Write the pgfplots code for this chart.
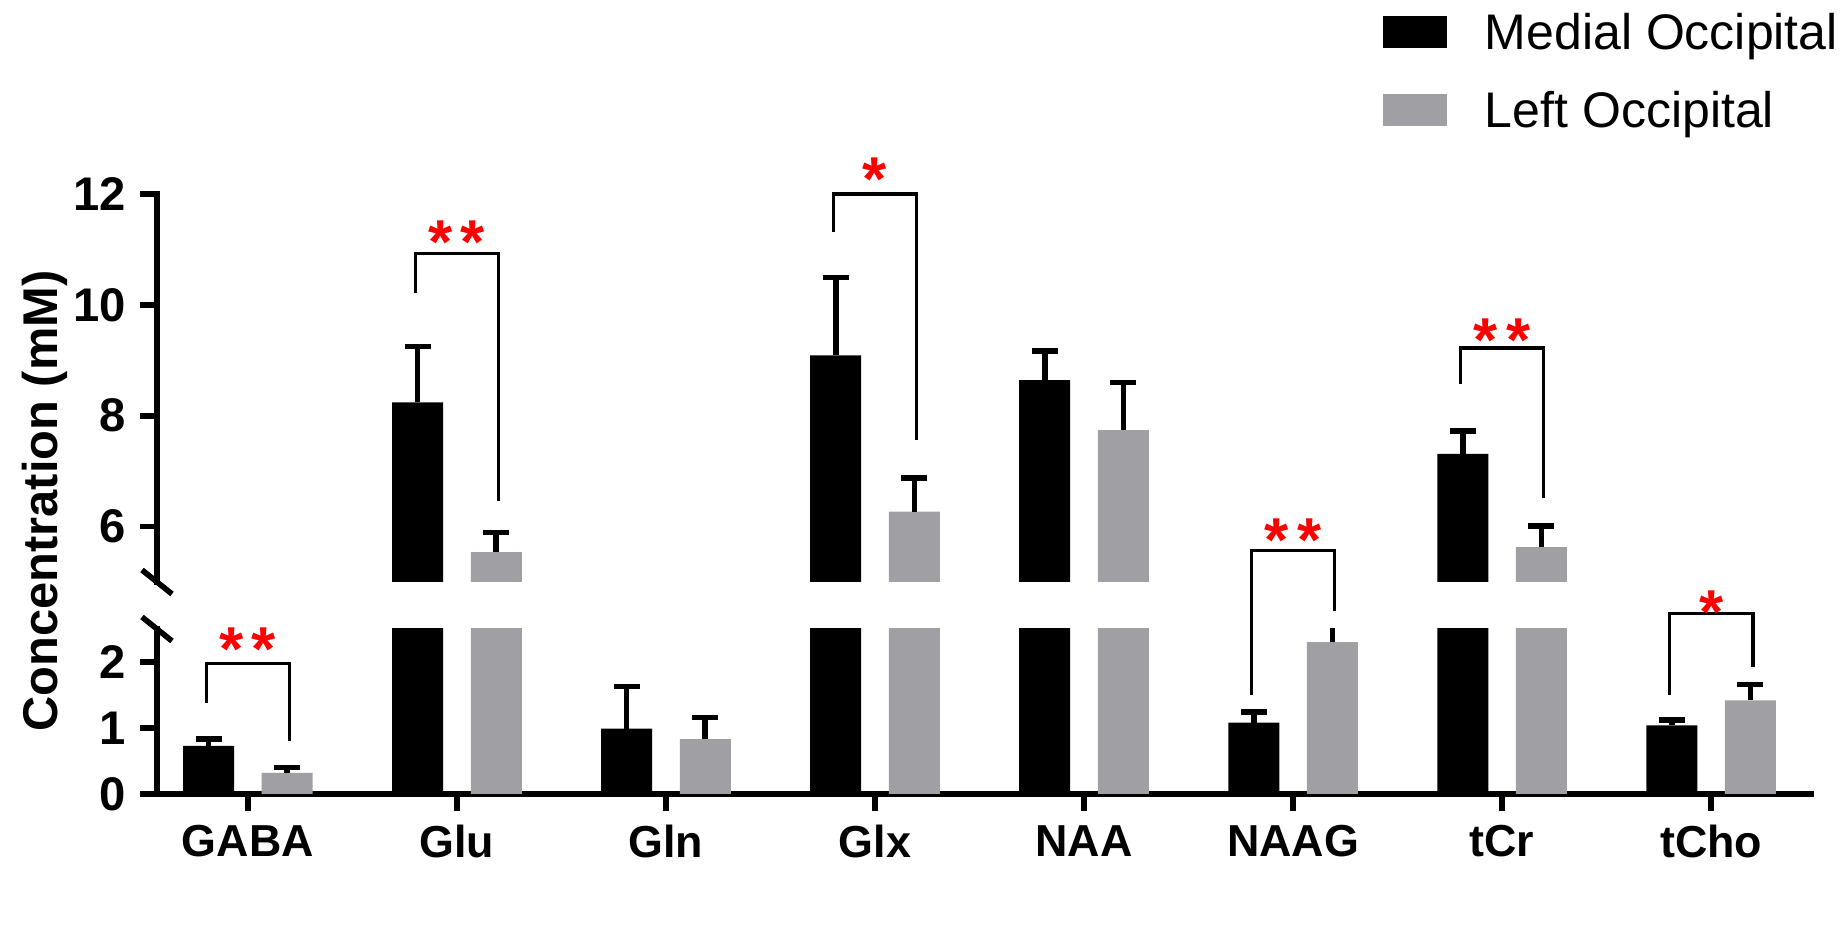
\documentclass[border=0pt]{standalone}
\usepackage{pgfplots}
\pgfplotsset{compat=1.18}
\usepackage{pgfplotstable}
\usepackage{fontspec}
\setmainfont{Liberation Sans}
\definecolor{lgrey}{RGB}{160,160,164}

% x: bar position (category index -0.188), y: mean, ey: upper error
\pgfplotstableread{
x y ey
-0.188 0.73 0.10
0.812 8.24 1.01
1.812 0.99 0.64
2.812 9.09 1.40
3.812 8.64 0.53
4.812 1.08 0.16
5.812 7.31 0.41
6.812 1.04 0.08
}\medial
% x: category index +0.188
\pgfplotstableread{
x y ey
0.188 0.32 0.08
1.188 5.54 0.35
2.188 0.83 0.33
3.188 6.27 0.61
4.188 7.74 0.86
5.188 2.30 0.35
6.188 5.63 0.38
7.188 1.42 0.24
}\leftocc

\tikzset{
  brk/.style={line width=0.8pt, black},
  star/.style={text=red, font=\bfseries\fontsize{15.5}{18}\selectfont, anchor=base, inner sep=0pt, yshift=-8.8pt},
}
\pgfplotsset{
  common/.style={
    scale only axis, width=413.5pt,
    xmin=-0.435, xmax=7.478,
    axis line style={-, line width=1.4pt, line cap=rect},
    tick style={line width=1.4pt, black},
    major tick length=4.3pt,
    tick align=outside,
    clip mode=individual,
    /pgf/number format/assume math mode=true,
    yticklabel style={font=\bfseries\fontsize{11.8}{13}\selectfont},
    xticklabel style={font=\bfseries\fontsize{11.2}{13}\selectfont},
  },
  errs/.style={
    error bars/y dir=plus, error bars/y explicit,
    error bars/error bar style={draw=black, line width=1.4pt},
    error bars/error mark options={draw=black, line width=1.4pt, mark size=3.25pt, rotate=90}},
  mbar/.style={ybar, bar width=0.244, bar shift=0pt, fill=black, draw=none, forget plot, errs},
  lbar/.style={ybar, bar width=0.244, bar shift=0pt, fill=lgrey, draw=none, forget plot, errs},
}

\begin{document}
\begin{tikzpicture}
\path[use as bounding box] (0,0) rectangle (462pt,237.75pt);
% upper segment
\begin{axis}[common, at={(39.25pt,92.25pt)}, anchor=south west, height=97pt,
  ymin=5, ymax=12, ytick={6,8,10,12},
  axis x line=none, axis y line*=left,
  legend image code/.code={\fill[#1] (0pt,-3.25pt) rectangle (16pt,4.75pt); \path (25.5pt,0pt);},
  legend cell align=left,
  legend style={at={(0.7412,1.4655)}, anchor=north west, draw=none, fill=none,
    inner sep=0pt, outer sep=0pt, row sep=9pt, column sep=0pt,
    font=\fontsize{12.5}{15}\selectfont, nodes={inner sep=0pt}},
]
\addplot[mbar, restrict y to domain=4.9:100] table[x=x, y=y, y error=ey]{\medial};
\addplot[lbar, restrict y to domain=4.9:100] table[x=x, y=y, y error=ey]{\leftocc};
\addlegendimage{fill=black, draw=none}
\addlegendentry{Medial Occipital}
\addlegendimage{fill=lgrey, draw=none}
\addlegendentry{Left Occipital}
% Glu
\draw[brk] (axis cs:0.8,10.22) -- (axis cs:0.8,10.93) -- (axis cs:1.2,10.93) -- (axis cs:1.2,6.47);
\node[star] at (axis cs:1,11.39) {*\kern2pt*};
% Glx
\draw[brk] (axis cs:2.8,11.31) -- (axis cs:2.8,12.0) -- (axis cs:3.2,12.0) -- (axis cs:3.2,7.56);
\node[star] at (axis cs:3,12.51) {*};
% tCr
\draw[brk] (axis cs:5.8,8.57) -- (axis cs:5.8,9.22) -- (axis cs:6.2,9.22) -- (axis cs:6.2,6.52);
\node[star] at (axis cs:6,9.62) {*\kern2pt*};
\end{axis}
% lower segment
\begin{axis}[common, at={(39.25pt,39.25pt)}, anchor=south west, height=41.25pt,
  ymin=0, ymax=2.5, ytick={0,1,2},
  xtick={0,1,2,3,4,5,6,7},
  xticklabels={GABA,Glu,Gln,Glx,NAA,NAAG,tCr,tCho},
  axis x line*=bottom, axis y line*=left,
]
\addplot[mbar] table[x=x, y=y, y error=ey]{\medial};
\addplot[lbar] table[x=x, y=y, y error=ey]{\leftocc};
% GABA
\draw[brk] (axis cs:-0.2,1.38) -- (axis cs:-0.2,1.98) -- (axis cs:0.2,1.98) -- (axis cs:0.2,0.81);
\node[star] at (axis cs:0,2.41) {*\kern2pt*};
% NAAG
\draw[brk] (axis cs:4.8,1.50) -- (axis cs:4.8,3.69) -- (axis cs:5.2,3.69) -- (axis cs:5.2,2.78);
\node[star] at (axis cs:5,4.06) {*\kern2pt*};
% tCho
\draw[brk] (axis cs:6.8,1.50) -- (axis cs:6.8,2.73) -- (axis cs:7.2,2.73) -- (axis cs:7.2,1.93);
\node[star] at (axis cs:7,2.96) {*};
\end{axis}
% axis break marks
\draw[line width=1.4pt] (35.5pt,95.25pt) -- (43pt,89.25pt);
\draw[line width=1.4pt] (35.5pt,83.5pt) -- (43pt,77.5pt);
% y label
\node[rotate=90, font=\bfseries\fontsize{12.2}{14}\selectfont] at (11.25pt,112.5pt) {Concentration (mM)};
\end{tikzpicture}
\end{document}
